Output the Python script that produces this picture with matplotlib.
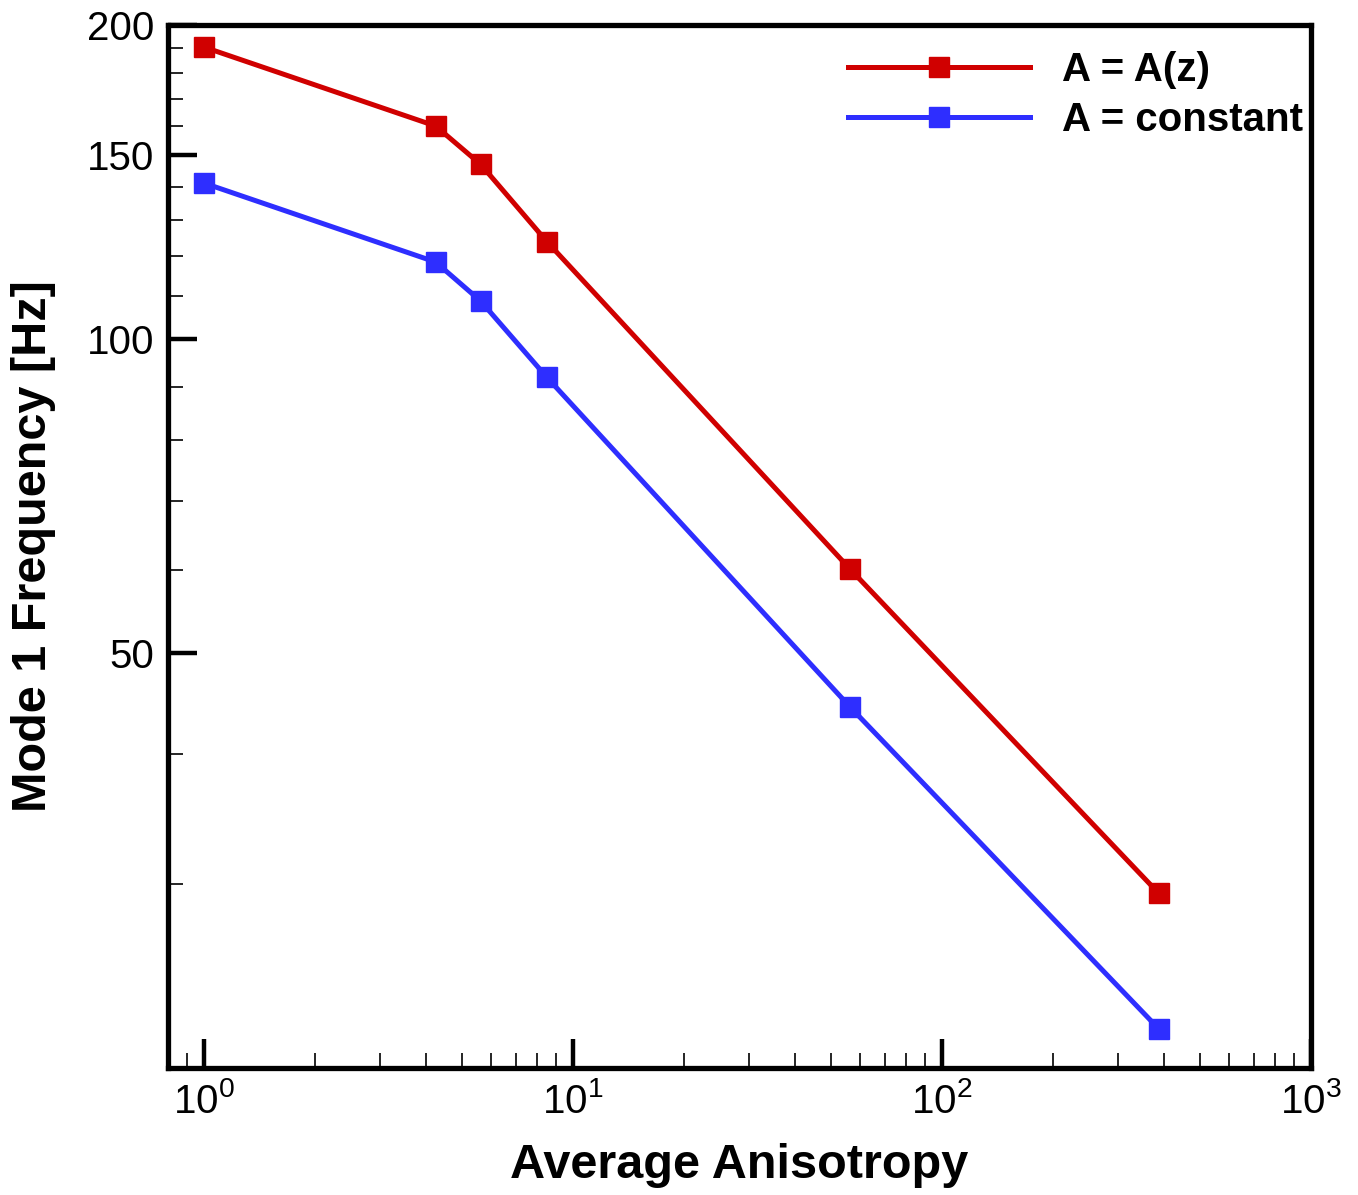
import numpy as np
import matplotlib.pyplot as plt
from matplotlib.ticker import FixedLocator, NullFormatter, FixedFormatter

plt.rcParams['font.family'] = ['Liberation Sans', 'DejaVu Sans']
plt.rcParams['mathtext.fontset'] = 'custom'
plt.rcParams['mathtext.rm'] = 'Liberation Sans'
plt.rcParams['mathtext.default'] = 'regular'

# Données
anisotropie = [1.0, 4.25, 5.63, 8.5, 56.3, 387]
freq_Az = [190.5, 160, 147, 124, 60.2, 29.4]
freq_const = [141.1, 118.5, 108.7, 91.9, 44.4, 21.8]

y_major = [50, 100, 150, 200]
y_minor = [30, 40, 60, 70, 80, 90, 110, 120, 130, 140, 160, 170, 180, 190]

rouge = '#D00000'
bleu = '#2E2EFF'

fig = plt.figure(figsize=(13.58, 11.95), dpi=100)
ax = fig.add_axes([0.1237, 0.1063, 0.8417, 0.8728])

ax.plot(anisotropie, freq_Az, color=rouge, lw=3.6, marker='s', ms=15,
        mec=rouge, label='A = A(z)')
ax.plot(anisotropie, freq_const, color=bleu, lw=3.6, marker='s', ms=15,
        mec=bleu, label='A = constant')

ax.set_xscale('log')
ax.set_yscale('log')
ax.set_xlim(0.8, 1000)
ax.set_ylim(20, 200)

ax.yaxis.set_major_locator(FixedLocator(y_major))
ax.yaxis.set_major_formatter(FixedFormatter([str(v) for v in y_major]))
ax.yaxis.set_minor_locator(FixedLocator(y_minor))
ax.yaxis.set_minor_formatter(NullFormatter())

ax.tick_params(which='major', direction='in', length=21, width=3.2,
               labelsize=29, pad=10, top=False, right=False)
ax.tick_params(which='minor', direction='in', length=11, width=1.2,
               top=False, right=False)

for s in ax.spines.values():
    s.set_linewidth(3.8)

ax.set_xlabel('Average Anisotropy', fontsize=35, fontweight='bold', labelpad=16)
ax.set_ylabel('Mode 1 Frequency [Hz]', fontsize=35, fontweight='bold', labelpad=22)

ax.legend(loc='upper right', bbox_to_anchor=(1.0105, 0.994), frameon=False,
          prop={'weight': 'bold', 'size': 29},
          handlelength=4.5, handletextpad=0.8, labelspacing=0.28,
          borderaxespad=0.1)

fig.savefig('out.png', dpi=100)
